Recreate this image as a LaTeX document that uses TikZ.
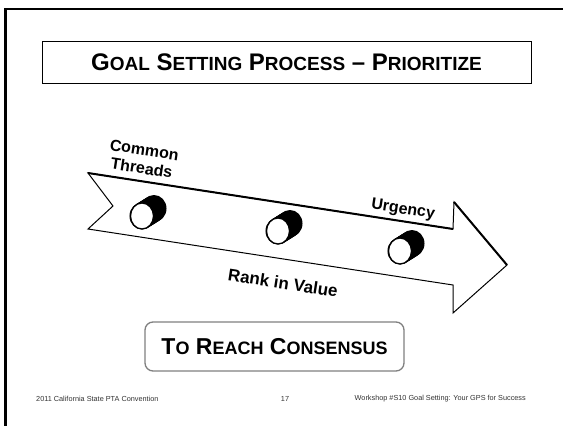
\documentclass[tikz,border=0pt]{standalone}
\usepackage{fontspec}
\setmainfont{Liberation Sans}
\newcommand{\smc}[1]{{\fontsize{19}{19}\selectfont #1}}
\newcommand{\smcb}[1]{{\fontsize{18}{18}\selectfont #1}}
\begin{document}
\begin{tikzpicture}[x=1pt,y=-1pt,
  boxtitle/.style={draw=black,line width=0.9pt,fill=white,minimum width=489pt,minimum height=42pt,inner sep=0pt,font=\bfseries\fontsize{24}{24}\selectfont},
  boxcons/.style={draw=black!50,line width=1.3pt,fill=white,rounded corners=8pt,minimum width=259pt,minimum height=49pt,inner sep=0pt,font=\bfseries\fontsize{23}{23}\selectfont},
  arrowlabel/.style={font=\bfseries\fontsize{16}{18.5}\selectfont,rotate=-8.7,inner sep=0pt},
  foot/.style={font=\fontsize{7.3}{7.3}\selectfont,text=black!80,inner sep=0pt},
  cylfront/.style={draw=black,line width=1.3pt,fill=white}]
\useasboundingbox (0,0) rectangle (563,426);
\fill[white] (0,0) rectangle (563,426);
% frame
\draw[line width=2.5pt,line cap=rect] (5.5,430) -- (5.5,9) -- (570,9);
% title
\node[boxtitle] (title) at (286.5,62) {G\smc{OAL} S\smc{ETTING} P\smc{ROCESS} -- P\smc{RIORITIZE}};
% arrow
\coordinate (a1) at (88,173);
\coordinate (a2) at (453,229);
\coordinate (a3) at (454,202);
\coordinate (a4) at (507,265);
\coordinate (a5) at (453,313);
\coordinate (a6) at (453,285);
\coordinate (a7) at (88,229);
\coordinate (a8) at (113,206);
\draw[line width=1pt,fill=white,line join=miter] (a1) -- (a2) -- (a3) -- (a4) -- (a5) -- (a6) -- (a7) -- (a8) -- cycle;
\draw[line width=2pt] (a1) -- (a2);
\draw[line width=2pt] (a3) -- (a4);
% cylinders
\foreach \cx/\cy/\nm in {142/216/c1, 278/231/c2, 400/251/c3}{
  \foreach \t in {0,0.1,...,1.01}{
    \fill[black] (\cx+12*\t,\cy-7.5*\t) ellipse [x radius=12.5, y radius=13.5];
  }
  \draw[cylfront] (\cx,\cy) ellipse [x radius=11.5, y radius=13];
  \coordinate (\nm) at (\cx,\cy);
}
% labels
\node[arrowlabel,align=center] (common) at (143,159) {Common\\Threads};
\node[arrowlabel] (urgency) at (403,210) {Urgency};
\node[arrowlabel,font=\bfseries\fontsize{17}{17}\selectfont] (rank) at (283,283) {Rank in Value};
% consensus
\node[boxcons] (cons) at (274.5,346.5) {T\smcb{O} R\smcb{EACH} C\smcb{ONSENSUS}};
% footer
\node[foot,anchor=west] (f1) at (36,399) {2011 California State PTA Convention};
\node[foot] (f2) at (285,399) {17};
\node[foot,anchor=east] (f3) at (526,399) {Workshop \#S10 Goal Setting: Your GPS for Success};
\end{tikzpicture}
\end{document}
